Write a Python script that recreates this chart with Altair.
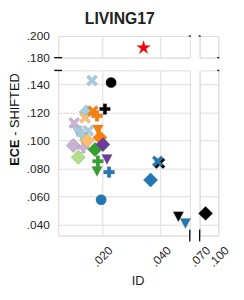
import altair as alt
import pandas as pd

# ---- data ----
ids = [0.0166, 0.0146, 0.0115, 0.0153, 0.0132,
       0.0105, 0.0102, 0.0136,
       0.0142, 0.0149,
       0.0119,
       0.0169, 0.0183, 0.0186, 0.0193,
       0.0176, 0.0186, 0.0183,
       0.0203, 0.0217,
       0.0231, 0.0210, 0.0397, 0.0461, 0.0795,
       0.0224, 0.0197, 0.0390, 0.0366, 0.0485,
       0.0342]
eces = [0.1428, 0.1203, 0.1069, 0.1069, 0.1041,
        0.1125, 0.0963, 0.0949,
        0.1161, 0.0999,
        0.0879,
        0.1210, 0.1175, 0.1076, 0.1020,
        0.0935, 0.0851, 0.0780,
        0.0970, 0.0865,
        0.1414, 0.1224, 0.0837, 0.0456, 0.0478,
        0.0773, 0.0576, 0.0851, 0.0717, 0.0407,
        0.1891]
colors = ["lb", "lb", "lb", "lb", "lb",
          "lv", "lv", "lv",
          "lo", "lo",
          "lg",
          "o", "o", "o", "o",
          "g", "g", "g",
          "p", "p",
          "k", "k", "k", "k", "k",
          "b", "b", "b", "b", "b",
          "r"]
markers = ["x", "diamond", "tri", "x", "plus",
           "x", "diamond", "plus",
           "x", "diamond",
           "diamond",
           "x", "plus", "tri", "diamond",
           "diamond", "plus", "tri",
           "diamond", "tri",
           "circle", "plus", "x", "tri", "diamond",
           "plus", "circle", "x", "diamond", "tri",
           "star"]

df = pd.DataFrame({"ID": ids, "ECE": eces, "color": colors, "marker": markers})

color_domain = ["lb", "lv", "lo", "lg", "o", "g", "p", "k", "b", "r"]
color_range = ["#a6cee3", "#cab2d6", "#fdbf6f", "#b2df8a", "#ff7f00",
               "#33a02c", "#6a3d9a", "#000000", "#1f78b4", "#ff0000"]

PLUS = ("M-0.333,-1L0.333,-1L0.333,-0.333L1,-0.333L1,0.333L0.333,0.333L0.333,1"
        "L-0.333,1L-0.333,0.333L-1,0.333L-1,-0.333L-0.333,-0.333Z")
XPATH = ("M-1,-0.6L-0.6,-1L0,-0.4L0.6,-1L1,-0.6L0.4,0L1,0.6L0.6,1L0,0.4"
         "L-0.6,1L-1,0.6L-0.4,0Z")
STAR = ("M0,-1L0.2245,-0.309L0.951,-0.309L0.363,0.118L0.588,0.809L0,0.382"
        "L-0.588,0.809L-0.363,0.118L-0.951,-0.309L-0.2245,-0.309Z")
TRI = "M-1,-0.9L1,-0.9L0,1Z"

shape_domain = ["circle", "diamond", "tri", "plus", "x", "star"]
shape_range = ["circle", "diamond", TRI, PLUS, XPATH, STAR]
size_range = [115, 215, 115, 121, 125, 220]

GRID = "#dddddd"
FONT = "Liberation Sans"
lab_expr = "substring(format(datum.value, '.3f'), 1)"


def xaxis(vals, labels, domain, title=None):
    kw = dict(values=vals, grid=True, gridColor=GRID, ticks=False, tickSize=0,
              domain=domain, domainColor=GRID, labels=labels)
    if labels:
        kw.update(labelExpr=lab_expr, labelAngle=-45, labelAlign="center",
                  labelBaseline="middle", labelPadding=21, labelFontSize=12,
                  labelColor="#222", labelFont=FONT)
    if title:
        kw.update(title=title, titleX=81, titleY=46, titleAlign="center",
                  titleBaseline="middle", titleFontSize=13, titleFontWeight="normal",
                  titleColor="#222", titleFont=FONT)
    else:
        kw.update(title=None)
    return alt.Axis(**kw)


def yaxis(vals, labels, domain):
    kw = dict(values=vals, grid=True, gridColor=GRID, ticks=False, tickSize=0,
              domain=domain, domainColor=GRID, labels=labels, title=None)
    if labels:
        kw.update(labelExpr=lab_expr, labelPadding=9, labelFontSize=12,
                  labelColor="#222", labelFont=FONT, minExtent=32, maxExtent=32)
    else:
        kw.update(minExtent=0, maxExtent=0)
    return alt.Axis(**kw)


def panel(xdom, ydom, w, h, ax_x, ax_y, breaks, extra=None):
    x0, x1 = xdom
    y0, y1 = ydom
    xs = alt.Scale(domain=list(xdom), nice=False, zero=False)
    ys = alt.Scale(domain=list(ydom), nice=False, zero=False)
    pts = alt.Chart(df).transform_filter(
        f"datum.ID >= {x0} && datum.ID <= {x1} && datum.ECE >= {y0} && datum.ECE <= {y1}"
    ).mark_point(filled=True, opacity=1, stroke="#777", strokeWidth=0.4,
                 strokeOpacity=0.7).encode(
        x=alt.X("ID:Q", scale=xs, axis=ax_x),
        y=alt.Y("ECE:Q", scale=ys, axis=ax_y),
        color=alt.Color("color:N", scale=alt.Scale(domain=color_domain, range=color_range), legend=None),
        shape=alt.Shape("marker:N", scale=alt.Scale(domain=shape_domain, range=shape_range), legend=None),
        size=alt.Size("marker:N", scale=alt.Scale(type="ordinal", domain=shape_domain, range=size_range), legend=None),
    )
    layers = [pts]
    for (bx, by, orient, length) in breaks:
        bdf = pd.DataFrame({"ID": [bx], "ECE": [by]})
        layers.append(
            alt.Chart(bdf).mark_tick(orient=orient, size=length, thickness=1.4, color="#111", opacity=1).encode(
                x=alt.X("ID:Q", scale=xs, axis=ax_x),
                y=alt.Y("ECE:Q", scale=ys, axis=ax_y),
            )
        )
    if extra:
        layers += extra
    return alt.layer(*layers).properties(width=w, height=h)


LX = (0.005, 0.05)
RX = (0.07, 0.10)
TY = (0.18, 0.20)
BY = (0.032, 0.15)

TL = panel(LX, TY, 134, 22,
           xaxis([0.02, 0.04], False, False),
           yaxis([0.18, 0.20], True, True),
           [(0.005, 0.18, "horizontal", 8), (0.05, 0.20, "horizontal", 2)])
TR = panel(RX, TY, 19, 22,
           xaxis([0.07, 0.10], False, False),
           yaxis([0.18, 0.20], False, False),
           [(0.07, 0.20, "horizontal", 2), (0.10, 0.18, "horizontal", 2)])

ttl_df = pd.DataFrame({"t": ["ECE"]})
ttl_df2 = pd.DataFrame({"t": ["- SHIFTED"]})
ytitle = [
    alt.Chart(ttl_df).mark_text(angle=270, align="left", baseline="middle", fontSize=13,
                                fontWeight="bold", font=FONT, color="#111").encode(
        text="t:N", x=alt.value(-44), y=alt.value(97)),
    alt.Chart(ttl_df2).mark_text(angle=270, align="left", baseline="middle", fontSize=13,
                                 font=FONT, color="#111").encode(
        text="t:N", x=alt.value(-44), y=alt.value(66.5)),
]

BL = panel(LX, BY, 134, 168,
           xaxis([0.02, 0.04], True, True, title="ID"),
           yaxis([0.04, 0.06, 0.08, 0.10, 0.12, 0.14], True, True),
           [(0.005, 0.15, "horizontal", 8), (0.05, 0.032, "vertical", 12)],
           extra=ytitle)
BR = panel(RX, BY, 19, 168,
           xaxis([0.07, 0.10], True, True),
           yaxis([0.04, 0.06, 0.08, 0.10, 0.12, 0.14], False, False),
           [(0.07, 0.032, "vertical", 12), (0.10, 0.15, "horizontal", 2)])

chart = alt.concat(TL, TR, BL, BR, columns=2, spacing={"row": 13, "column": 10},
                   bounds="flush", align="each").properties(
    title=alt.TitleParams("LIVING17", fontSize=16, fontWeight="bold", font=FONT,
                          color="#222", anchor="middle", offset=3),
    padding={"left": 0, "top": 0, "right": 4, "bottom": 4},
).configure_view(stroke=None).configure(font=FONT)

chart.save("out.html", embed_options={"renderer": "svg", "actions": False})
